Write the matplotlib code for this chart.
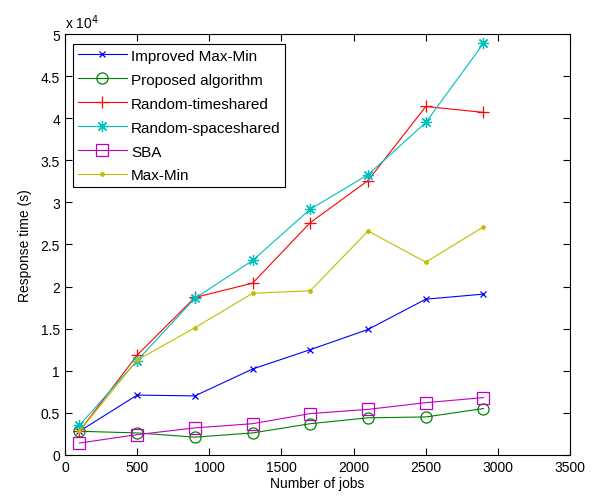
import matplotlib
matplotlib.use("Agg")
import matplotlib.pyplot as plt
from matplotlib.ticker import FuncFormatter

plt.rcParams['font.family'] = ['Liberation Sans', 'DejaVu Sans']
plt.rcParams['font.size'] = 10

# number of jobs
jobs = [100, 500, 900, 1300, 1700, 2100, 2500, 2900]

# response time in seconds
improved_maxmin = [2800, 7100, 7000, 10200, 12500, 14900, 18500, 19100]
proposed = [2800, 2600, 2100, 2600, 3700, 4400, 4500, 5500]
random_time = [2800, 11850, 18700, 20400, 27600, 32600, 41400, 40700]
random_space = [3500, 11200, 18600, 23100, 29200, 33300, 39500, 48900]
sba = [1400, 2400, 3200, 3700, 4900, 5400, 6200, 6800]
maxmin = [2800, 11250, 15100, 19200, 19500, 26600, 22900, 27100]

# name, values, colour, marker, marker size
series = [
    ("Improved Max-Min", improved_maxmin, (0, 0, 1), "x", 4),
    ("Proposed algorithm", proposed, (0, 0.5, 0), "o", 8),
    ("Random-timeshared", random_time, (1, 0, 0), "+", 9),
    ("Random-spaceshared", random_space, (0, 0.75, 0.75), (8, 2, 0), 8),
    ("SBA", sba, (0.75, 0, 0.75), "s", 8),
    ("Max-Min", maxmin, (0.75, 0.75, 0), ".", 5),
]

fig = plt.figure(figsize=(6.13, 5.02), dpi=100)
ax = fig.add_axes([0.106, 0.092, 0.824, 0.838])

for name, vals, col, mk, ms in series:
    hollow = mk in ("o", "s")
    ax.plot(jobs, vals, color=col, marker=mk, markersize=ms, linewidth=0.8,
            markerfacecolor='none' if hollow else col,
            markeredgewidth=0.9, label=name)

ax.set_xlim(0, 3500)
ax.set_ylim(0, 50000)
ax.set_xticks(range(0, 3501, 500))
ax.set_yticks(range(0, 50001, 5000))
ax.yaxis.set_major_formatter(FuncFormatter(lambda v, p: f"{v/1e4:g}"))
ax.tick_params(direction='in', top=True, right=True, length=5)
ax.text(0, 1.015, r"x 10$^4$", transform=ax.transAxes, fontsize=10)

ax.set_xlabel("Number of jobs", labelpad=2)
ax.set_ylabel("Response time (s)", labelpad=6)

leg = ax.legend(loc='upper left', bbox_to_anchor=(0.016, 0.976), fancybox=False,
                edgecolor='black', framealpha=1, handlelength=3.2,
                handletextpad=0.3, borderpad=0.3, labelspacing=0.65,
                borderaxespad=0, fontsize=11)
leg.get_frame().set_linewidth(0.8)

fig.savefig("out.png", dpi=100)
